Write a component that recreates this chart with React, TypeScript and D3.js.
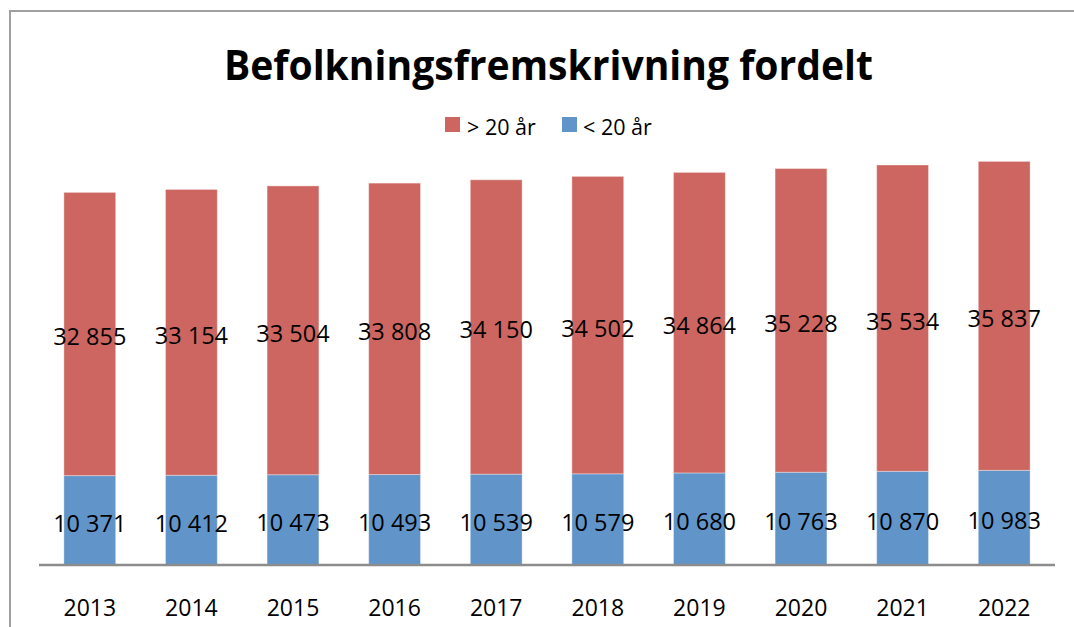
import React from "react";
import * as d3 from "d3";

const years = ["2013", "2014", "2015", "2016", "2017", "2018", "2019", "2020", "2021", "2022"];
const under20 = [10371, 10412, 10473, 10493, 10539, 10579, 10680, 10763, 10870, 10983];
const over20 = [32855, 33154, 33504, 33808, 34150, 34502, 34864, 35228, 35534, 35837];
const seriesNames = ["> 20 år", "< 20 år"];
const yMax = 50000;

const W = 1074;
const H = 627;
const RED = "#cd6660";
const BLUE = "#6194c9";
const FONT = "'Open Sans', 'Liberation Sans', sans-serif";

const fmt = (v: number) => {
  const s = String(v);
  return s.length > 3 ? s.slice(0, s.length - 3) + " " + s.slice(-3) : s;
};

export default function App() {
  const x = d3.scaleBand<string>().domain(years).range([39, 1055]).paddingInner(0.49).paddingOuter(0.245);
  const y = d3.scaleLinear().domain([0, yMax]).range([565, 134]);

  const rows = years.map((yr, i) => ({ yr, u: under20[i], o: over20[i] }));
  const stack = d3.stack<any>().keys(["u", "o"])(rows);

  return (
    <svg width={W} height={H} style={{ position: "absolute", left: 0, top: 0, background: "#fff" }}>
      <rect x={10} y={11} width={W + 20} height={H + 20} fill="#fff" stroke="#a0a0a0" strokeWidth={2} />
      <text x={548.5} y={80} textAnchor="middle" fontFamily={FONT} fontWeight="bold" fontSize={41}
        textLength={649} lengthAdjust="spacingAndGlyphs" fill="#000">
        Befolkningsfremskrivning fordelt
      </text>
      {/* legend */}
      <rect x={445} y={117} width={15} height={15} fill={RED} />
      <text x={467} y={135} fontFamily={FONT} fontSize={21.5} fill="#000">{seriesNames[0]}</text>
      <rect x={562} y={117} width={15} height={15} fill={BLUE} />
      <text x={583} y={135} fontFamily={FONT} fontSize={21.5} fill="#000">{seriesNames[1]}</text>
      {stack.map((layer, li) => (
        <g key={li}>
          {layer.map((d, i) => (
            <rect key={i} x={x(years[i])} y={y(d[1])} width={x.bandwidth()} height={y(d[0]) - y(d[1])}
              fill={li === 0 ? BLUE : RED} stroke="rgba(255,255,255,0.35)" strokeWidth={1} />
          ))}
        </g>
      ))}
      {stack.map((layer, li) => (
        <g key={"l" + li}>
          {layer.map((d, i) => (
            <text key={i} x={(x(years[i]) as number) + x.bandwidth() / 2} y={(y(d[0]) + y(d[1])) / 2 + 11.5}
              textAnchor="middle" fontFamily={FONT} fontSize={23.5} fill="#000">
              {fmt(li === 0 ? under20[i] : over20[i])}
            </text>
          ))}
        </g>
      ))}
      <line x1={39} x2={1055} y1={565} y2={565} stroke="#8c8c8c" strokeWidth={2.5} />
      {years.map((yr) => (
        <text key={yr} x={(x(yr) as number) + x.bandwidth() / 2} y={616} textAnchor="middle"
          fontFamily={FONT} fontSize={23} fill="#000">{yr}</text>
      ))}
    </svg>
  );
}
